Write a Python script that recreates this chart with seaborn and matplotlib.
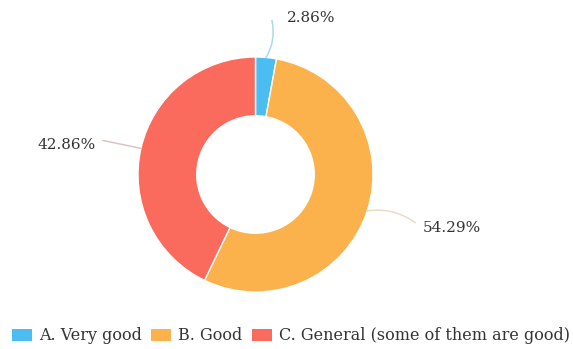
import matplotlib
matplotlib.use("Agg")
import matplotlib.pyplot as plt
import seaborn as sns
import numpy as np
from matplotlib.patches import Patch

categories = ["A. Very good", "B. Good", "C. General (some of them are good)"]
counts = [1, 19, 15]
colors = ["#4cbdf0", "#fbb24c", "#fa6b5e"]

sns.set_theme(style="white")
plt.rcParams["font.family"] = ["DejaVu Serif"]

fig = plt.figure(figsize=(5.73, 3.49), dpi=100)
W, H = 573, 349
cx, cy, R = 255.5, 174.5, 117.5
ax = fig.add_axes([(cx - R) / W, (H - cy - R) / H, 2 * R / W, 2 * R / H])

wedges, _ = ax.pie(counts, colors=colors, startangle=90, counterclock=False,
                   radius=1, wedgeprops=dict(width=0.5, edgecolor="white", linewidth=1))
ax.set_xlim(-1, 1)
ax.set_ylim(-1, 1)
ax.set_aspect("equal")
ax.axis("off")

total = sum(counts)
pcts = [f"{c / total * 100:.2f}%" for c in counts]

# leader end and text positions in data units (A, B, C)
ends = [(0.14, 1.31), (1.36, -0.41), (-1.30, 0.29)]
texts = [(0.27, 1.33), (1.42, -0.455), (-1.36, 0.25)]
has = ["left", "left", "right"]
rads = [-0.2, 0.2, 0.0]
line_colors = ["#a9d8ee", "#e9dcc4", "#d9c4c2"]
for w, p, e, t, ha, c, rd in zip(wedges, pcts, ends, texts, has, line_colors, rads):
    ang = np.deg2rad((w.theta1 + w.theta2) / 2)
    sx, sy = np.cos(ang), np.sin(ang)
    ax.annotate("", xy=(sx, sy), xytext=e,
                arrowprops=dict(arrowstyle="-", color=c, lw=1.1,
                                connectionstyle=f"arc3,rad={rd}", shrinkA=0, shrinkB=0),
                annotation_clip=False)
    ax.text(t[0], t[1], p, ha=ha, va="center", fontsize=11, color="#333333",
            clip_on=False)

handles = [Patch(facecolor=c, edgecolor="none") for c in colors]
fig.legend(handles, categories, loc="center", bbox_to_anchor=(0.508, 1 - 336 / H),
           ncol=3, frameon=False, fontsize=11.5, handlelength=1.25, handleheight=0.7,
           handletextpad=0.45, columnspacing=0.6, labelcolor="#333333")

fig.savefig("out.png", dpi=100)
